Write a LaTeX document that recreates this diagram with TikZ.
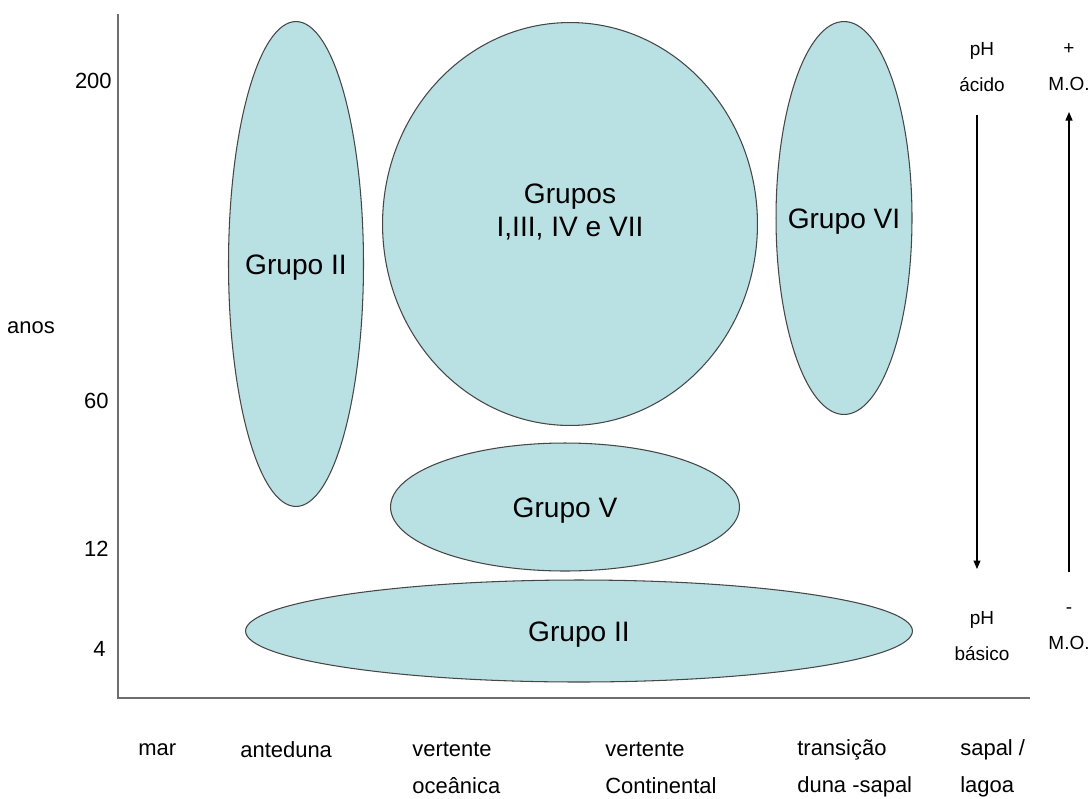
\documentclass[tikz,border=0pt]{standalone}
\usepackage{fontspec}
\setmainfont{Liberation Sans}
\usepackage{tikz}
\usetikzlibrary{arrows.meta,shapes.geometric}
\definecolor{grpfill}{RGB}{185,224,227}
\definecolor{grpline}{RGB}{70,70,70}
\definecolor{axisgray}{RGB}{110,110,110}

\begin{document}
\begin{tikzpicture}[
  x=0.02cm, y=-0.02cm,
  grp/.style={draw=grpline, line width=0.6pt, fill=grpfill, ellipse, inner sep=0pt},
  grplabel/.style={font=\fontsize{16}{18.8}\selectfont, align=center, inner sep=0pt, yshift=-0.08cm},
  axlabel/.style={font=\fontsize{12.5}{21}\selectfont, align=left, inner sep=0pt},
  sidelabel/.style={font=\fontsize{10.8}{20.5}\selectfont, align=center, inner sep=0pt},
  arrow/.style={-{Triangle[length=1.7mm, width=1.4mm]}, line width=0.6pt}
]
\useasboundingbox (0,0) rectangle (1091,798);

\coordinate (top) at (118,14);
\coordinate (origin) at (118,698);
\coordinate (right) at (1030,698);
\draw[axisgray, line width=0.9pt] (top) -- (origin) -- (right);

\node[grp, minimum width=2.70cm, minimum height=9.70cm,
      label={[grplabel]center:Grupo II}] (gIIa) at (296,264) {};
\node[grp, minimum width=7.50cm, minimum height=8.06cm,
      label={[grplabel, yshift=0.32cm]center:Grupos\\I,III, IV e VII}] (gmain) at (570,224) {};
\node[grp, minimum width=2.72cm, minimum height=7.86cm,
      label={[grplabel]center:Grupo VI}] (gVI) at (844,218) {};
\node[grp, minimum width=6.98cm, minimum height=2.56cm,
      label={[grplabel]center:Grupo V}] (gV) at (565,507) {};
\node[grp, minimum width=13.34cm, minimum height=2.04cm,
      label={[grplabel]center:Grupo II}] (gIIb) at (579,631) {};

\node[axlabel, anchor=east] (y200) at (112,81) {200};
\node[axlabel, anchor=center] (anos) at (31,328) {anos};
\node[axlabel, anchor=east] (y60) at (109,401) {60};
\node[axlabel, anchor=east] (y12) at (109,549) {12};
\node[axlabel, anchor=east] (y4) at (106,649) {4};

\node[axlabel, anchor=west] (mar) at (138,750) {mar};
\node[axlabel, anchor=west] (ante) at (240,750) {anteduna};
\node[axlabel, anchor=west] (vocean) at (412,768) {vertente\\oceânica};
\node[axlabel, anchor=west] (vcont) at (605,768) {vertente\\Continental};
\node[axlabel, anchor=west] (trans) at (797,768) {transição\\duna -sapal};
\node[axlabel, anchor=west] (sapal) at (960,768) {sapal /\\lagoa};

\node[sidelabel] (acido) at (982,67) {pH\\ácido};
\node[sidelabel] (basico) at (982,636) {pH\\básico};
\node[sidelabel] (mais) at (1069,67) {+\\M.O.};
\node[sidelabel] (menos) at (1069,629) {-\\M.O.};

\coordinate (phtop) at (977,115);
\coordinate (phbot) at (977,569);
\coordinate (motop) at (1069,112);
\coordinate (mobot) at (1069,572);
\draw[arrow] (phtop) -- (phbot);
\draw[arrow] (mobot) -- (motop);
\end{tikzpicture}
\end{document}
